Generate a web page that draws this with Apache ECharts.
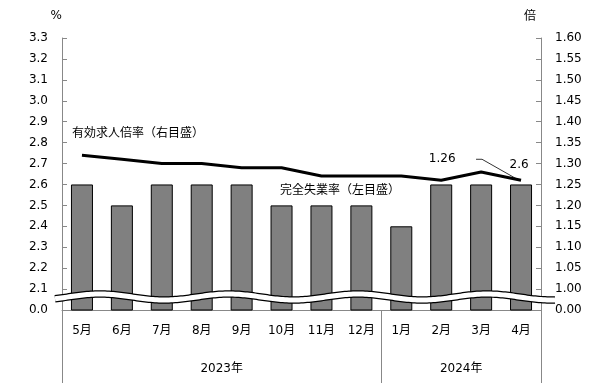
<!DOCTYPE html>
<html><head><meta charset="utf-8">
<script src="https://cdn.jsdelivr.net/npm/echarts@6/dist/echarts.min.js"></script>
<style>html,body{margin:0;padding:0;background:#fff}#c{width:609px;height:389px}</style>
</head><body><div id="c"></div>
<script>
const categories = ['5月','6月','7月','8月','9月','10月','11月','12月','1月','2月','3月','4月'];
const unemploymentRate = [2.6,2.5,2.6,2.6,2.6,2.5,2.5,2.5,2.4,2.6,2.6,2.6];
const jobsRatio = [1.32,1.31,1.30,1.30,1.29,1.29,1.27,1.27,1.27,1.26,1.28,1.26];
const yearLabels = ['2023年','2024年'];
const yearSpans = [8,4];
const leftAxis = {min:2.0, max:3.3, interval:0.1, zeroLabel:'0.0'};
const rightAxis = {min:0.95, max:1.60, interval:0.05, zeroLabel:'0.00'};
const seriesNames = ['完全失業率（左目盛）','有効求人倍率（右目盛）'];

const FONT = 'DejaVu Sans, Noto Sans CJK JP, sans-serif';
const JFONT = 'Noto Sans CJK JP, sans-serif';

const yearBounds = [0]; yearSpans.forEach(s => yearBounds.push(yearBounds[yearBounds.length-1]+s));
const yearCenters = yearSpans.map((s,i)=> yearBounds[i] + s/2);

const chart = echarts.init(document.getElementById('c'), null, {renderer:'canvas'});
const axisGray = '#888888';
chart.setOption({
  animation:false,
  backgroundColor:'#fff',
  grid:{left:62, right:68, top:38, bottom:79, containLabel:false},
  xAxis:[
    {type:'category', data:categories, position:'bottom', boundaryGap:true,
     axisLine:{lineStyle:{color:axisGray,width:1}}, axisTick:{show:false},
     axisLabel:{color:'#000', fontSize:12, fontFamily:FONT, margin:15, interval:0}},
    {type:'value', min:0, max:categories.length, position:'bottom',
     axisLine:{show:false}, splitLine:{show:false},
     axisTick:{show:true, customValues:yearBounds, length:73, lineStyle:{color:axisGray}},
     axisLabel:{customValues:yearCenters, color:'#000', fontSize:12, fontFamily:FONT, margin:53,
       formatter:(v)=>{const i=yearCenters.indexOf(v); return i>=0?yearLabels[i]:'';}}}
  ],
  yAxis:[
    {type:'value', min:leftAxis.min, max:leftAxis.max, interval:leftAxis.interval, position:'left',
     name:'%', nameLocation:'end', nameGap:16, nameTextStyle:{color:'#000',fontSize:12,fontFamily:FONT,align:'right',padding:[0,0,0,0]},
     axisLine:{show:true,lineStyle:{color:axisGray}}, axisTick:{show:true,inside:true,length:5,lineStyle:{color:axisGray}},
     splitLine:{show:false},
     axisLabel:{color:'#000', fontSize:12, fontFamily:FONT, margin:14,
       formatter:(v)=> Math.abs(v-leftAxis.min)<1e-6 ? leftAxis.zeroLabel : v.toFixed(1)}},
    {type:'value', min:rightAxis.min, max:rightAxis.max, interval:rightAxis.interval, position:'right',
     name:'倍', nameLocation:'end', nameGap:17, nameTextStyle:{color:'#000',fontSize:12,fontFamily:JFONT,align:'right',padding:[0,5,0,0]},
     axisLine:{show:true,lineStyle:{color:axisGray}}, axisTick:{show:true,inside:true,length:5,lineStyle:{color:axisGray}},
     splitLine:{show:false},
     axisLabel:{color:'#000', fontSize:12, fontFamily:FONT, margin:14,
       formatter:(v)=> Math.abs(v-rightAxis.min)<1e-6 ? rightAxis.zeroLabel : v.toFixed(2)}}
  ],
  series:[
    {name:seriesNames[0], type:'bar', xAxisIndex:0, yAxisIndex:0, data:unemploymentRate, barWidth:22,
     itemStyle:{color:'#808080', borderColor:'#000', borderWidth:1}, z:2},
    {name:seriesNames[1], type:'line', xAxisIndex:0, yAxisIndex:1, data:jobsRatio, symbol:'none',
     lineStyle:{color:'#000', width:3}, z:3}
  ]
});

const base = chart.convertToPixel({xAxisIndex:0,yAxisIndex:0},[0,leftAxis.min]);
const cy = base[1] - 13;
const pts = [];
for (let x=55; x<=556; x+=2) pts.push([x, cy - 3*Math.cos(2*Math.PI*(x-100)/129)]);
const lastIdx = categories.length-1;
const feb = chart.convertToPixel({xAxisIndex:0,yAxisIndex:1},[lastIdx-2, jobsRatio[lastIdx-2]]);
const aprL = chart.convertToPixel({xAxisIndex:0,yAxisIndex:1},[lastIdx, jobsRatio[lastIdx]]);
const aprB = chart.convertToPixel({xAxisIndex:0,yAxisIndex:0},[lastIdx, unemploymentRate[lastIdx]]);
chart.setOption({graphic:[
  {type:'polyline', z:100, shape:{points:pts}, style:{stroke:'#000', lineWidth:7.5, fill:null}},
  {type:'polyline', z:101, shape:{points:pts}, style:{stroke:'#fff', lineWidth:5, fill:null}},
  {type:'text', z:102, x:72, y:132, style:{text:seriesNames[1], fill:'#000', font:'12px '+JFONT, textVerticalAlign:'middle'}},
  {type:'text', z:102, x:280, y:189, style:{text:seriesNames[0], fill:'#000', font:'12px '+JFONT, textVerticalAlign:'middle'}},
  {type:'text', z:102, x:feb[0]+1, y:feb[1]-21, style:{text:jobsRatio[lastIdx].toFixed(2), fill:'#000', font:'12px DejaVu Sans', textAlign:'center', textVerticalAlign:'middle'}},
  {type:'text', z:102, x:aprB[0]-2, y:aprB[1]-20, style:{text:unemploymentRate[lastIdx].toFixed(1), fill:'#000', font:'12px DejaVu Sans', textAlign:'center', textVerticalAlign:'middle'}},
  {type:'polyline', z:102, shape:{points:[[aprL[0]-45,aprL[1]-21],[aprL[0]-39,aprL[1]-21],[aprL[0]-2,aprL[1]]]}, style:{stroke:'#000', lineWidth:0.8, fill:null}}
]});
</script></body></html>
